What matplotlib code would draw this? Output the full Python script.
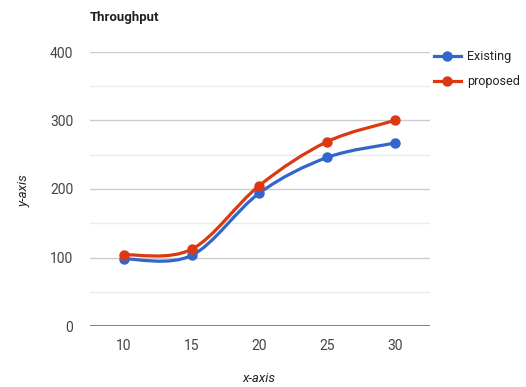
import numpy as np
import matplotlib.pyplot as plt
from matplotlib.path import Path
from matplotlib.patches import PathPatch
from matplotlib.lines import Line2D

plt.rcParams['font.family'] = ['Roboto', 'DejaVu Sans']

x_vals = [10, 15, 20, 25, 30]
existing = [98, 103, 194, 246, 267]
proposed = [104, 112, 205, 269, 300]
series_names = ['Existing', 'proposed']
colors = ['#3366cc', '#dc3912']
y_ticks = [0, 100, 200, 300, 400]


def smooth_path(xs, ys):
    # Catmull-Rom style bezier through the points, ends clamped
    xs = np.asarray(xs, float)
    ys = np.asarray(ys, float)
    n = len(xs)
    verts = [(xs[0], ys[0])]
    codes = [Path.MOVETO]
    for i in range(n - 1):
        a = max(i - 1, 0)
        b = min(i + 2, n - 1)
        c1 = (xs[i] + (xs[i + 1] - xs[a]) / 6, ys[i] + (ys[i + 1] - ys[a]) / 6)
        c2 = (xs[i + 1] - (xs[b] - xs[i]) / 6, ys[i + 1] - (ys[b] - ys[i]) / 6)
        verts += [c1, c2, (xs[i + 1], ys[i + 1])]
        codes += [Path.CURVE4] * 3
    return Path(verts, codes)


fig = plt.figure(figsize=(5.26, 3.87), dpi=100)
ax = fig.add_axes([90 / 526, 61 / 387, 340 / 526, 274 / 387])

for ys, c in zip([existing, proposed], colors):
    ax.add_patch(PathPatch(smooth_path(x_vals, ys), fill=False,
                           edgecolor=c, lw=2.3, capstyle='round', zorder=3))
    ax.plot(x_vals, ys, 'o', color=c, ms=6.5, zorder=4)

ax.set_xlim(7.5, 32.6)
ax.set_ylim(0, 400)
ax.set_xticks(x_vals)
ax.set_yticks(y_ticks)
ax.set_yticks([50, 150, 250, 350], minor=True)
ax.grid(axis='y', which='major', color='#cccccc', lw=1)
ax.grid(axis='y', which='minor', color='#ebebeb', lw=1)
ax.axhline(0, color='#777777', lw=2, zorder=2)
for s in ax.spines.values():
    s.set_visible(False)
ax.tick_params(which='both', length=0, labelsize=10, labelcolor='#444444')
ax.tick_params(axis='y', pad=12)
ax.tick_params(axis='x', pad=9)

fig.text(259 / 526, 1 - 379 / 387, 'x-axis', fontsize=9.5, style='italic',
         color='#222222', ha='center', va='center')
fig.text(24 / 526, 1 - 191 / 387, 'y-axis', fontsize=9.5, style='italic',
         color='#222222', ha='center', va='center', rotation=90)
fig.text(90 / 526, 1 - 18 / 387, 'Throughput', fontsize=9.5, fontweight='bold',
         color='#222222', va='center', ha='left')

handles = [Line2D([], [], color=c, lw=2.3, marker='o', ms=6.5) for c in colors]
fig.legend(handles, series_names, loc='upper left',
           bbox_to_anchor=(423 / 526, 1 - 39 / 387), frameon=False,
           fontsize=9, handlelength=2.1, handletextpad=0.5, labelspacing=0.95,
           labelcolor='#222222')

fig.savefig('out.png', dpi=100)
